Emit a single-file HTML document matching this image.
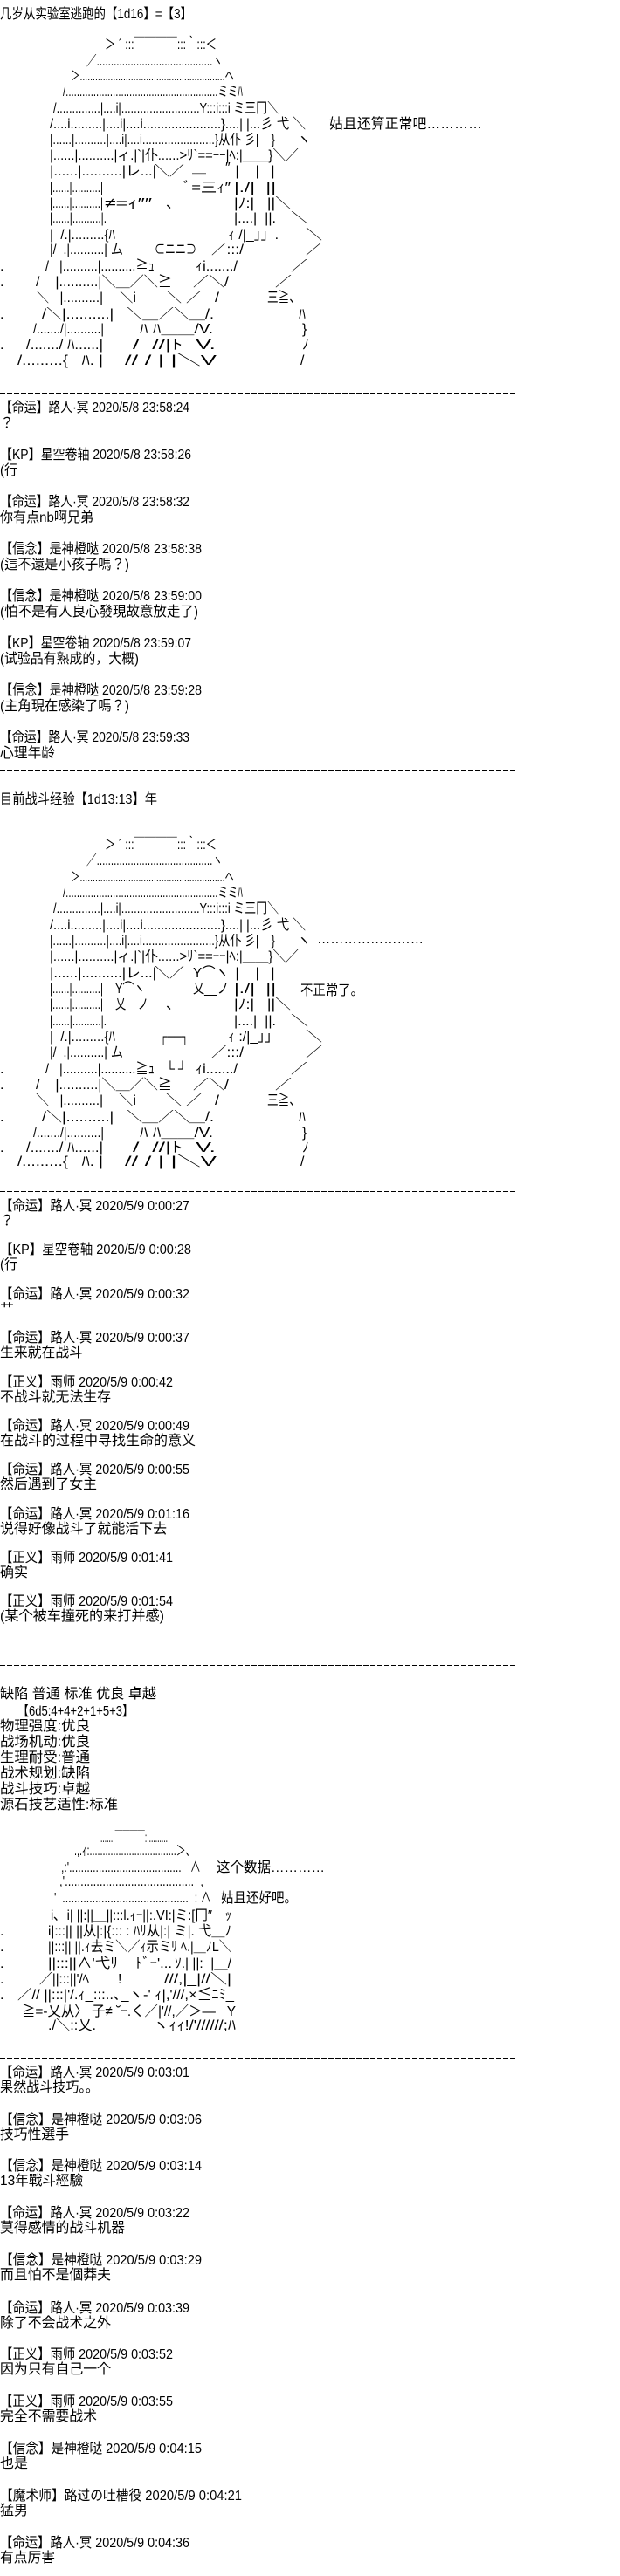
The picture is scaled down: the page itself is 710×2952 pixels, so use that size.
<!DOCTYPE html>
<html><head><meta charset="utf-8">
<style>
html,body{margin:0;padding:0;background:#fff;}
body{width:710px;height:2952px;position:relative;overflow:hidden;color:#000;}
i{position:absolute;font-style:normal;white-space:pre;line-height:1;transform-origin:0 0;font-family:"Liberation Sans","Noto Sans CJK JP",sans-serif;}
.a,.t{font-size:16px;margin-top:-2px;}
.u{font-size:16px;}
.d{position:absolute;left:0;height:1px;background:repeating-linear-gradient(90deg,#000 0 6px,transparent 6px 8px);}
</style></head><body>

<i class="t" style="left:0;top:11px;width:220px">几岁从实验室逃跑的【1d16】=【3】</i>

<!-- AA1 -->
<i class="a" style="left:120px;top:46px;width:128px">＞ ´ :::￣￣￣￣:::｀:::＜</i>
<i class="a" style="left:99px;top:65px;width:156px">／.........................................ヽ</i>
<i class="a" style="left:81px;top:82px;width:187px">＞.........................................................ヘ</i>
<i class="a" style="left:72px;top:100px;width:206px">/.......................................................ミミﾊ</i>
<i class="a" style="left:61px;top:119px;width:258px">/..............|....i|.........................Y:::i:::i ミ三冂＼</i>
<i class="a" style="left:57px;top:137px;width:293px">/....i.........|....i|....i......................}....| |...彡 弋 ＼</i>
<i class="t" style="left:377px;top:137px;width:175px">姑且还算正常吧…………</i>
<i class="a" style="left:57px;top:155px;width:258px">|......|..........|....i|....i.......................}从仆 彡|    }</i>
<i class="a" style="left:340px;top:155px">ヽ</i>
<i class="a" style="left:57px;top:173px;width:285px">|......|..........|ィ.|`|仆......>ﾘ`==ｰｰ|ﾍ:|＿＿}＼／</i>
<i class="a" style="left:57px;top:191px;width:122px">|......|..........|レ...|</i>
<i class="a" style="left:177px;top:191px;width:34px">＼／</i>
<i class="a" style="left:220px;top:187px">＿</i><i class="a" style="left:258px;top:187px">″</i>
<i class="a" style="left:269px;top:191px;width:46px">|   |  |</i>
<i class="a" style="left:57px;top:210px;width:61px">|......|..........|</i>
<i class="a" style="left:210px;top:210px;width:54px">ﾞ=三ｨ″</i>
<i class="a" style="left:268px;top:210px;width:48px">|./|  ||</i>
<i class="a" style="left:57px;top:228px;width:61px">|......|..........|</i>
<i class="a" style="left:120px;top:228px;width:54px">≠=ｨ″″</i>
<i class="a" style="left:190px;top:228px">、</i>
<i class="a" style="left:268px;top:228px;width:65px">|ﾉ:|   ||＼</i>
<i class="a" style="left:57px;top:245px;width:65px">|......|..........|.</i>
<i class="a" style="left:268px;top:245px;width:48px">|....|  ||.</i>
<i class="a" style="left:333px;top:245px;width:20px">＼</i>
<i class="a" style="left:57px;top:264px;width:75px">|  /.|.........{ﾊ</i>
<i class="a" style="left:261px;top:264px;width:58px">ｨ /|_」」.</i>
<i class="a" style="left:350px;top:264px;width:19px">＼</i>
<i class="a" style="left:57px;top:281px;width:84px">|/  .|..........| ム</i>
<i class="a" style="left:177px;top:281px;width:48px">⊂ニニ⊃</i>
<i class="a" style="left:242px;top:281px;width:37px">／:::/</i>
<i class="a" style="left:350px;top:281px;width:19px">／</i>
<i class="a" style="left:0;top:300px">.</i>
<i class="a" style="left:52px;top:300px;width:125px">/   |..........|..........≧ｭ</i>
<i class="a" style="left:224px;top:300px;width:48px">ｨi......./</i>
<i class="a" style="left:333px;top:300px;width:19px">／</i>
<i class="a" style="left:0;top:318px">.</i>
<i class="a" style="left:41px;top:318px;width:156px">/    |..........|＼＿／＼≧</i>
<i class="a" style="left:221px;top:318px;width:41px">／＼/</i>
<i class="a" style="left:315px;top:318px;width:19px">／</i>
<i class="a" style="left:41px;top:336px;width:77px">＼   |..........|</i>
<i class="a" style="left:136px;top:336px;width:20px">＼i</i>
<i class="a" style="left:190px;top:336px;width:61px">＼ ／   /</i>
<i class="a" style="left:306px;top:336px;width:38px">三≧、</i>
<i class="a" style="left:0;top:355px">.</i>
<i class="a" style="left:48px;top:355px;width:197px">/＼|..........|   ＼＿／＼＿/.</i>
<i class="a" style="left:342px;top:355px">ﾊ</i>
<i class="a" style="left:38px;top:372px;width:81px">/......./|..........|</i>
<i class="a" style="left:160px;top:372px;width:84px">ﾊ ﾊ＿＿/V.</i>
<i class="a" style="left:346px;top:372px">}</i>
<i class="a" style="left:0;top:390px">.</i>
<i class="a" style="left:30px;top:390px;width:88px">/......./ ﾊ......|</i>
<i class="a" style="left:152px;top:390px;width:95px">/  //|ﾄ  V.</i>
<i class="a" style="left:346px;top:390px">ﾉ</i>
<i class="a" style="left:20px;top:408px;width:98px">/.........{   ﾊ. |</i>
<i class="a" style="left:143px;top:408px;width:105px">// / | |＼V</i>
<i class="a" style="left:344px;top:408px">/</i>

<div class="d" style="top:450px;width:591px"></div>

<i class="t" style="left:0;top:462px;width:217px">【命运】路人·冥 2020/5/8 23:58:24</i>
<i class="t" style="left:0;top:480px">？</i>
<i class="t" style="left:0;top:516px;width:219px">【KP】星空卷轴 2020/5/8 23:58:26</i>
<i class="t" style="left:0;top:534px;width:20px">(行</i>
<i class="t" style="left:0;top:570px;width:217px">【命运】路人·冥 2020/5/8 23:58:32</i>
<i class="t" style="left:0;top:588px;width:107px">你有点nb啊兄弟</i>
<i class="t" style="left:0;top:624px;width:231px">【信念】是神橙哒 2020/5/8 23:58:38</i>
<i class="t" style="left:0;top:642px;width:148px">(這不還是小孩子嗎？)</i>
<i class="t" style="left:0;top:678px;width:231px">【信念】是神橙哒 2020/5/8 23:59:00</i>
<i class="t" style="left:0;top:696px;width:227px">(怕不是有人良心發現故意放走了)</i>
<i class="t" style="left:0;top:732px;width:219px">【KP】星空卷轴 2020/5/8 23:59:07</i>
<i class="t" style="left:0;top:750px;width:159px">(试验品有熟成的，大概)</i>
<i class="t" style="left:0;top:786px;width:231px">【信念】是神橙哒 2020/5/8 23:59:28</i>
<i class="t" style="left:0;top:804px;width:148px">(主角現在感染了嗎？)</i>
<i class="t" style="left:0;top:840px;width:217px">【命运】路人·冥 2020/5/8 23:59:33</i>
<i class="t" style="left:0;top:858px;width:63px">心理年龄</i>

<div class="d" style="top:882px;width:591px"></div>

<i class="t" style="left:0;top:911px;width:180px">目前战斗经验【1d13:13】年</i>

<!-- AA2 -->
<i class="a" style="left:120px;top:963px;width:128px">＞ ´ :::￣￣￣￣:::｀:::＜</i>
<i class="a" style="left:99px;top:981px;width:156px">／.........................................ヽ</i>
<i class="a" style="left:81px;top:1000px;width:187px">＞.........................................................ヘ</i>
<i class="a" style="left:72px;top:1018px;width:206px">/.......................................................ミミﾊ</i>
<i class="a" style="left:61px;top:1036px;width:258px">/..............|....i|.........................Y:::i:::i ミ三冂＼</i>
<i class="a" style="left:57px;top:1055px;width:293px">/....i.........|....i|....i......................}....| |...彡 弋 ＼</i>
<i class="a" style="left:57px;top:1073px;width:258px">|......|..........|....i|....i.......................}从仆 彡|    }</i>
<i class="a" style="left:340px;top:1073px">ヽ</i>
<i class="t" style="left:363px;top:1071px;width:122px">……………………</i>
<i class="a" style="left:57px;top:1091px;width:285px">|......|..........|ィ.|`|仆......>ﾘ`==ｰｰ|ﾍ:|＿＿}＼／</i>
<i class="a" style="left:57px;top:1110px;width:122px">|......|..........|レ...|</i>
<i class="a" style="left:177px;top:1110px;width:34px">＼／</i>
<i class="a" style="left:221px;top:1110px;width:41px">Y⌒ヽ</i>
<i class="a" style="left:269px;top:1110px;width:46px">|   |  |</i>
<i class="a" style="left:57px;top:1128px;width:61px">|......|..........|</i>
<i class="a" style="left:132px;top:1128px;width:34px">Y⌒ヽ</i>
<i class="a" style="left:221px;top:1128px;width:41px">乂__ノ</i>
<i class="a" style="left:268px;top:1128px;width:48px">|./|  ||</i>
<i class="t" style="left:344px;top:1130px;width:72px">不正常了。</i>
<i class="a" style="left:57px;top:1146px;width:61px">|......|..........|</i>
<i class="a" style="left:132px;top:1146px;width:38px">乂__ノ</i>
<i class="a" style="left:190px;top:1146px">、</i>
<i class="a" style="left:268px;top:1146px;width:65px">|ﾉ:|   ||＼</i>
<i class="a" style="left:57px;top:1165px;width:65px">|......|..........|.</i>
<i class="a" style="left:268px;top:1165px;width:48px">|....|  ||.</i>
<i class="a" style="left:333px;top:1165px;width:20px">＼</i>
<i class="a" style="left:57px;top:1183px;width:75px">|  /.|.........{ﾊ</i>
<i class="a" style="left:183px;top:1183px;width:33px">┌──┐</i>
<i class="a" style="left:261px;top:1183px;width:58px">ｨ :/|_」」</i>
<i class="a" style="left:350px;top:1183px;width:19px">＼</i>
<i class="a" style="left:57px;top:1201px;width:84px">|/  .|..........| ム</i>
<i class="a" style="left:242px;top:1201px;width:37px">／:::/</i>
<i class="a" style="left:350px;top:1201px;width:19px">／</i>
<i class="a" style="left:0;top:1220px">.</i>
<i class="a" style="left:52px;top:1220px;width:125px">/   |..........|..........≧ｭ</i>
<i class="a" style="left:190px;top:1220px;width:24px">└ ┘</i>
<i class="a" style="left:224px;top:1220px;width:48px">ｨi......./</i>
<i class="a" style="left:333px;top:1220px;width:19px">／</i>
<i class="a" style="left:0;top:1238px">.</i>
<i class="a" style="left:41px;top:1238px;width:156px">/    |..........|＼＿／＼≧</i>
<i class="a" style="left:221px;top:1238px;width:41px">／＼/</i>
<i class="a" style="left:315px;top:1238px;width:19px">／</i>
<i class="a" style="left:41px;top:1256px;width:77px">＼   |..........|</i>
<i class="a" style="left:136px;top:1256px;width:20px">＼i</i>
<i class="a" style="left:190px;top:1256px;width:61px">＼ ／   /</i>
<i class="a" style="left:306px;top:1256px;width:38px">三≧、</i>
<i class="a" style="left:0;top:1275px">.</i>
<i class="a" style="left:48px;top:1275px;width:197px">/＼|..........|   ＼＿／＼＿/.</i>
<i class="a" style="left:342px;top:1275px">ﾊ</i>
<i class="a" style="left:38px;top:1293px;width:81px">/......./|..........|</i>
<i class="a" style="left:160px;top:1293px;width:84px">ﾊ ﾊ＿＿/V.</i>
<i class="a" style="left:346px;top:1293px">}</i>
<i class="a" style="left:0;top:1310px">.</i>
<i class="a" style="left:30px;top:1310px;width:88px">/......./ ﾊ......|</i>
<i class="a" style="left:152px;top:1310px;width:95px">/  //|ﾄ  V.</i>
<i class="a" style="left:346px;top:1310px">ﾉ</i>
<i class="a" style="left:20px;top:1326px;width:98px">/.........{   ﾊ. |</i>
<i class="a" style="left:143px;top:1326px;width:105px">// / | |＼V</i>
<i class="a" style="left:344px;top:1326px">/</i>

<div class="d" style="top:1365px;width:591px"></div>

<i class="u" style="left:0;top:1375px;width:217px">【命运】路人·冥 2020/5/9 0:00:27</i>
<i class="u" style="left:0;top:1392px">？</i>
<i class="u" style="left:0;top:1425px;width:219px">【KP】星空卷轴 2020/5/9 0:00:28</i>
<i class="u" style="left:0;top:1442px;width:20px">(行</i>
<i class="u" style="left:0;top:1476px;width:217px">【命运】路人·冥 2020/5/9 0:00:32</i>
<i class="u" style="left:0;top:1493px">艹</i>
<i class="u" style="left:0;top:1526px;width:217px">【命运】路人·冥 2020/5/9 0:00:37</i>
<i class="u" style="left:0;top:1543px;width:95px">生来就在战斗</i>
<i class="u" style="left:0;top:1577px;width:198px">【正义】雨师 2020/5/9 0:00:42</i>
<i class="u" style="left:0;top:1594px;width:127px">不战斗就无法生存</i>
<i class="u" style="left:0;top:1627px;width:217px">【命运】路人·冥 2020/5/9 0:00:49</i>
<i class="u" style="left:0;top:1644px;width:224px">在战斗的过程中寻找生命的意义</i>
<i class="u" style="left:0;top:1677px;width:217px">【命运】路人·冥 2020/5/9 0:00:55</i>
<i class="u" style="left:0;top:1694px;width:111px">然后遇到了女主</i>
<i class="u" style="left:0;top:1728px;width:217px">【命运】路人·冥 2020/5/9 0:01:16</i>
<i class="u" style="left:0;top:1745px;width:191px">说得好像战斗了就能活下去</i>
<i class="u" style="left:0;top:1778px;width:198px">【正义】雨师 2020/5/9 0:01:41</i>
<i class="u" style="left:0;top:1795px;width:32px">确实</i>
<i class="u" style="left:0;top:1828px;width:198px">【正义】雨师 2020/5/9 0:01:54</i>
<i class="u" style="left:0;top:1845px;width:188px">(某个被车撞死的来打并感)</i>

<div class="d" style="top:1908px;width:591px"></div>

<i class="u" style="left:0;top:1934px;width:179px">缺陷 普通 标准 优良 卓越</i>
<i class="u" style="left:20px;top:1954px;width:133px">【6d5:4+4+2+1+5+3】</i>
<i class="u" style="left:0;top:1971px;width:103px">物理强度:优良</i>
<i class="u" style="left:0;top:1989px;width:103px">战场机动:优良</i>
<i class="u" style="left:0;top:2007px;width:103px">生理耐受:普通</i>
<i class="u" style="left:0;top:2025px;width:103px">战术规划:缺陷</i>
<i class="u" style="left:0;top:2043px;width:103px">战斗技巧:卓越</i>
<i class="u" style="left:0;top:2061px;width:135px">源石技艺适性:标准</i>

<!-- AA3 -->
<i class="a" style="left:115px;top:2101px;width:77px">......:￣￣￣￣:..........</i>
<i class="a" style="left:85px;top:2116px;width:133px">.,.ｨ:.................................＞､</i>
<i class="a" style="left:70px;top:2135px;width:160px">,:'......................................   ∧</i>
<i class="u" style="left:248px;top:2133px;width:124px">这个数据…………</i>
<i class="a" style="left:68px;top:2151px;width:165px">,'.........................................  ,</i>
<i class="a" style="left:62px;top:2170px;width:180px">'  ..........................................  : ∧</i>
<i class="u" style="left:253px;top:2168px;width:87px">姑且还好吧。</i>
<i class="a" style="left:58px;top:2190px;width:207px">i､_i| ||:||＿||:::l.ｨｰ||:.VI:|ミ:[冂″￣ｯ</i>
<i class="a" style="left:0;top:2208px">.</i>
<i class="a" style="left:55px;top:2208px;width:210px">i|:::|| ||从|:|{::: : ﾊﾘ从|:| ミ|. 弋＿ﾉ</i>
<i class="a" style="left:0;top:2226px">.</i>
<i class="a" style="left:55px;top:2226px;width:210px">||:::|| ||.ｨ去ミ＼／ｨ示ミﾘ ﾍ.|＿ﾉL＼</i>
<i class="a" style="left:0;top:2245px">.</i>
<i class="a" style="left:55px;top:2245px;width:80px">||:::||∧'弋ﾘ</i>
<i class="a" style="left:155px;top:2245px;width:42px">ﾄﾞｰ'...</i>
<i class="a" style="left:200px;top:2245px;width:65px">ｿ.| ||:_|＿/</i>
<i class="a" style="left:0;top:2263px">.</i>
<i class="a" style="left:45px;top:2263px;width:57px">／||:::||'/ﾍ</i>
<i class="a" style="left:135px;top:2263px">!</i>
<i class="a" style="left:188px;top:2263px;width:77px">///,|_|//＼|</i>
<i class="a" style="left:0;top:2281px">.</i>
<i class="a" style="left:20px;top:2281px;width:248px">／// ||:::|'/.ｨ_:::..､_ヽ-' ｨ|,'///,×≦ﾆﾐ_</i>
<i class="a" style="left:25px;top:2300px;width:245px">≧=-乂从〉 子≠ ˘ｰ.く／|'//,／＞―   Y</i>
<i class="a" style="left:55px;top:2316px;width:55px">./＼::乂.</i>
<i class="a" style="left:175px;top:2316px;width:95px">ヽｨｨ!/'//////;ﾊ</i>

<div class="d" style="top:2358px;width:591px"></div>

<i class="u" style="left:0;top:2368px;width:217px">【命运】路人·冥 2020/5/9 0:03:01</i>
<i class="u" style="left:0;top:2385px;width:113px">果然战斗技巧。。</i>
<i class="u" style="left:0;top:2422px;width:231px">【信念】是神橙哒 2020/5/9 0:03:06</i>
<i class="u" style="left:0;top:2439px;width:79px">技巧性選手</i>
<i class="u" style="left:0;top:2475px;width:231px">【信念】是神橙哒 2020/5/9 0:03:14</i>
<i class="u" style="left:0;top:2492px;width:95px">13年戰斗經驗</i>
<i class="u" style="left:0;top:2529px;width:217px">【命运】路人·冥 2020/5/9 0:03:22</i>
<i class="u" style="left:0;top:2546px;width:143px">莫得感情的战斗机器</i>
<i class="u" style="left:0;top:2583px;width:231px">【信念】是神橙哒 2020/5/9 0:03:29</i>
<i class="u" style="left:0;top:2600px;width:127px">而且怕不是個莽夫</i>
<i class="u" style="left:0;top:2638px;width:217px">【命运】路人·冥 2020/5/9 0:03:39</i>
<i class="u" style="left:0;top:2655px;width:127px">除了不会战术之外</i>
<i class="u" style="left:0;top:2691px;width:198px">【正义】雨师 2020/5/9 0:03:52</i>
<i class="u" style="left:0;top:2708px;width:127px">因为只有自己一个</i>
<i class="u" style="left:0;top:2745px;width:198px">【正义】雨师 2020/5/9 0:03:55</i>
<i class="u" style="left:0;top:2762px;width:111px">完全不需要战术</i>
<i class="u" style="left:0;top:2799px;width:231px">【信念】是神橙哒 2020/5/9 0:04:15</i>
<i class="u" style="left:0;top:2816px;width:32px">也是</i>
<i class="u" style="left:0;top:2853px;width:277px">【魔术师】路过の吐槽役 2020/5/9 0:04:21</i>
<i class="u" style="left:0;top:2870px;width:32px">猛男</i>
<i class="u" style="left:0;top:2907px;width:217px">【命运】路人·冥 2020/5/9 0:04:36</i>
<i class="u" style="left:0;top:2924px;width:63px">有点厉害</i>

<script>
(function(){
  var els=document.querySelectorAll('i');
  for(var k=0;k<els.length;k++){
    var el=els[k];
    var w=parseFloat(el.style.width);
    if(!w) continue;
    el.style.width='auto';
    var n=el.getBoundingClientRect().width;
    if(n>0){el.style.transform='scaleX('+(w/n)+')';}
  }
})();
</script>
</body></html>
